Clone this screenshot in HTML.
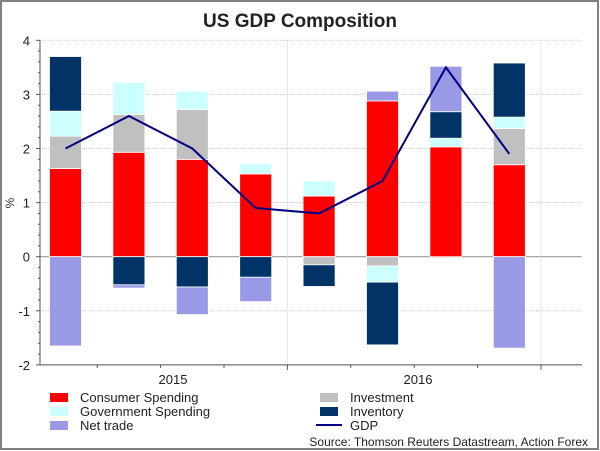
<!DOCTYPE html>
<html><head><meta charset="utf-8"><style>
body{margin:0;background:#fff}
svg{display:block;font-family:"Liberation Sans",Arial,sans-serif}
</style></head><body>
<svg id="chart" width="600" height="451" viewBox="0 0 600 451">
<rect x="1" y="1" width="597" height="448" fill="#fff" stroke="#808080" stroke-width="2"/>
<text x="300" y="27" text-anchor="middle" font-size="19" font-weight="bold" fill="#222">US GDP Composition</text>
<g id="grid"></g><g id="bars"></g><g id="axes"></g><g id="line"></g>
<text x="14" y="203" font-size="12" fill="#333" transform="rotate(-90 14 203)" text-anchor="middle">%</text>
<g font-size="13" fill="#222">
<rect x="50" y="393" width="18" height="9" fill="#ff0000"/>
<text x="80" y="402">Consumer Spending</text>
<rect x="50" y="407" width="18" height="9" fill="#ccffff"/>
<text x="80" y="416">Government Spending</text>
<rect x="50" y="421" width="18" height="9" fill="#9999e6"/>
<text x="80" y="430">Net trade</text>
<rect x="320" y="393" width="18" height="9" fill="#c0c0c0"/>
<text x="350" y="402">Investment</text>
<rect x="320" y="407" width="18" height="9" fill="#003366"/>
<text x="350" y="416">Inventory</text>
<line x1="316" y1="425" x2="342" y2="425" stroke="#000080" stroke-width="2"/>
<text x="350" y="430">GDP</text>
</g>
<text x="588" y="446" text-anchor="end" font-size="12" fill="#222">Source: Thomson Reuters Datastream, Action Forex</text>
</svg>
<script>
const quarters=["Q1 2015","Q2 2015","Q3 2015","Q4 2015","Q1 2016","Q2 2016","Q3 2016","Q4 2016"];
const consumer=[1.63,1.93,1.80,1.53,1.12,2.88,2.03,1.70];
const investment=[0.60,0.70,0.92,0,-0.15,-0.17,0,0.67];
const government=[0.46,0.59,0.34,0.19,0.28,-0.30,0.16,0.21];
const inventory=[1.01,-0.52,-0.56,-0.38,-0.40,-1.16,0.49,1.00];
const netTrade=[-1.65,-0.06,-0.51,-0.45,0,0.18,0.84,-1.69];
const gdp=[2.0,2.6,2.0,0.9,0.8,1.4,3.5,1.9];
const yTicks=[-2,-1,0,1,2,3,4];
const yearLabels=["2015","2016"];

const NS="http://www.w3.org/2000/svg";
const X0=40,X1=582,Y0=256.7,PPU=54.1,C0=65.5,STEP=63.4,BW=32;
const y=v=>Y0-v*PPU;
const xc=i=>C0+i*STEP;
function mk(tag,attrs,parent){const e=document.createElementNS(NS,tag);for(const k in attrs)e.setAttribute(k,attrs[k]);document.getElementById(parent).appendChild(e);return e;}

yTicks.forEach(t=>{
  const g=mk("line",{x1:X0,x2:X1,y1:y(t),y2:y(t),stroke:t===0?"#999":"#ccc","stroke-width":t===0?1.2:1,"stroke-dasharray":t===0?"":"1,1"},"grid");
  
  
  const tx=mk("text",{x:30,y:y(t)+5,"text-anchor":"end","font-size":13,fill:"#222"},"axes");
  tx.textContent=t;
  
  
});
[3.5,7.5].forEach(b=>{
  const g=mk("line",{x1:C0+b*STEP,x2:C0+b*STEP,y1:y(4),y2:y(-2),stroke:"#ccc","stroke-dasharray":"1,1"},"grid");
  
  
});
const ya=mk("line",{x1:X0,x2:X0,y1:y(4),y2:y(-2),stroke:"#555"},"axes");


for(let v=-2;v<=4.001;v+=0.2){
  const major=Math.abs(v-Math.round(v))<1e-6;
  const t=mk("line",{x1:X0-(major?4:2),x2:X0,y1:y(v),y2:y(v),stroke:"#555"},"axes");
  
  
}
const xa=mk("line",{x1:X0,x2:X1,y1:y(-2),y2:y(-2),stroke:"#555"},"axes");


for(let i=0;i<quarters.length;i++){
  const t=mk("line",{x1:C0+(i+0.5)*STEP,x2:C0+(i+0.5)*STEP,y1:y(-2),y2:y(-2)+((i%4===3)?5:3),stroke:"#555"},"axes");
  
  
}
yearLabels.forEach((l,k)=>{
  const t=mk("text",{x:173+k*245,y:384,"text-anchor":"middle","font-size":13,fill:"#222"},"axes");
  t.textContent=l;
  
  
});
const series=[["consumer",consumer,"#ff0000"],["investment",investment,"#c0c0c0"],["government",government,"#ccffff"],["inventory",inventory,"#003366"],["net-trade",netTrade,"#9999e6"]];
quarters.forEach((q,i)=>{
  let pos=0,neg=0;
  series.forEach(([n,arr,col])=>{
    const v=arr[i];if(!v)return;
    let a,b;
    if(v>0){a=pos;b=pos+v;pos=b;}else{a=neg;b=neg+v;neg=b;}
    const top=y(Math.max(a,b)),h=Math.abs(y(a)-y(b));
    const r=mk("rect",{x:xc(i)-BW/2,y:top,width:BW,height:h,fill:col,stroke:"#fff","stroke-width":0.8},"bars");
    
    
  });
});
const p=mk("polyline",{points:gdp.map((v,i)=>xc(i)+","+y(v)).join(" "),fill:"none",stroke:"#000080","stroke-width":2},"line");


</script>
</body></html>
